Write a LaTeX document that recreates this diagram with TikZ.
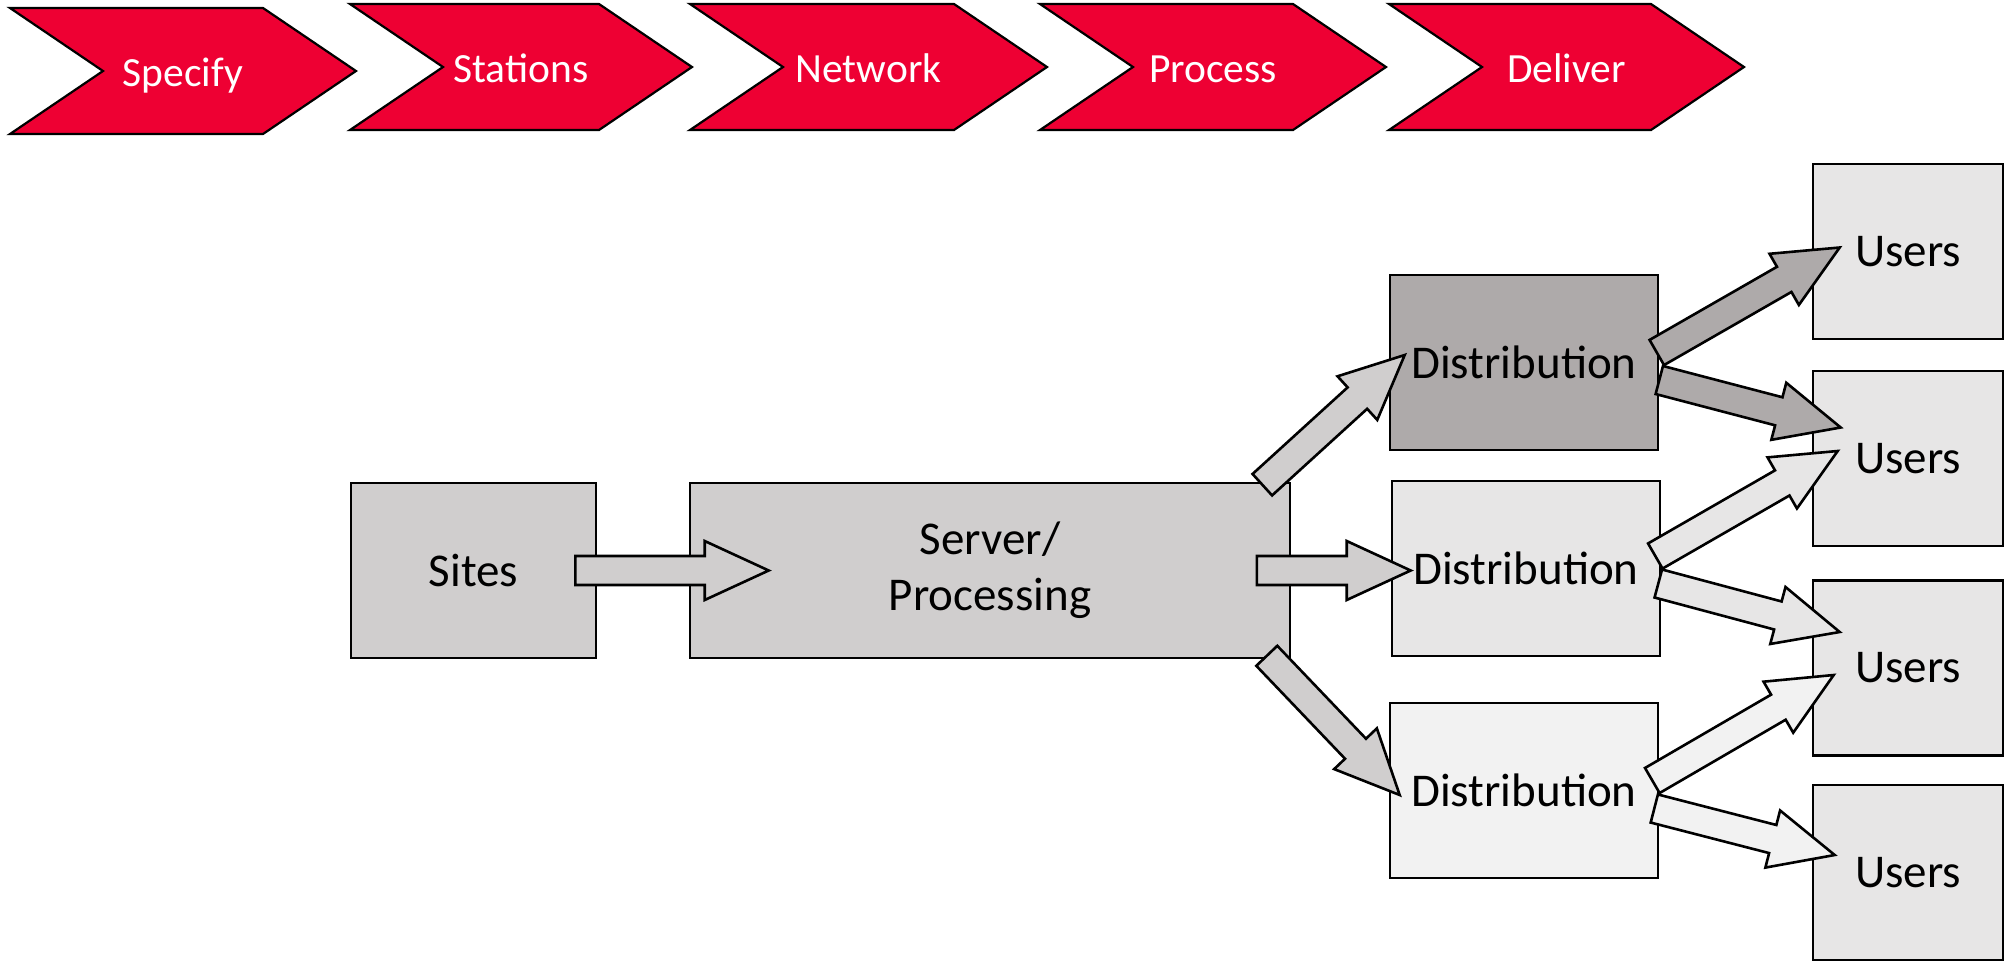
\documentclass[tikz,border=0pt]{standalone}
\usepackage{fontspec}
\setmainfont{Carlito}
\usepackage{tikz}
\usetikzlibrary{calc}
\definecolor{stepred}{RGB}{238,0,51}
\definecolor{greyA}{RGB}{208,206,206}
\definecolor{greyB}{RGB}{174,170,170}
\definecolor{greyC}{RGB}{231,230,230}
\definecolor{greyD}{RGB}{242,242,242}

% wide block arrow from #2 to #3, filled with #1
\newcommand{\fatarrow}[3]{%
  \coordinate (fb) at ($(#3)!32pt!(#2)$);
  \draw[fatline, fill=#1] ($(#2)!7.25pt!90:(#3)$) -- ($(fb)!7.25pt!90:(#3)$)
    -- ($(fb)!14.75pt!90:(#3)$) -- (#3) -- ($(fb)!14.75pt!-90:(#3)$)
    -- ($(fb)!7.25pt!-90:(#3)$) -- ($(#2)!7.25pt!-90:(#3)$) -- cycle;
}

\begin{document}
\begin{tikzpicture}[x=0.5pt,y=-0.5pt]
                    \tikzstyle{every node}+=[inner sep=0pt]
                    \tikzstyle{chevron}=[draw=black, line width=1.1pt, fill=stepred]
                    \tikzstyle{steptext}=[text=white, anchor=base, font=\fontsize{20.75}{25}\selectfont]
                    \tikzstyle{box}=[draw=black, line width=1.3pt, minimum height=87.5pt, align=center, font=\fontsize{23.5}{28}\selectfont]
                    \tikzstyle{fatline}=[draw=black, line width=1.3pt, line join=miter]
                    \useasboundingbox (0,0) rectangle (2015,960);
                    % process steps
                    \foreach \xa/\xb/\ya/\lbl in {10/263/8/Specify, 350/599/4/Stations, 690/954/4/Network, 1040/1293/4/Process, 1389/1651/4/Deliver}{
                      \draw [chevron] (\xa,\ya) -- (\xb,\ya) -- (\xb+93,\ya+63) -- (\xb,\ya+126) -- (\xa,\ya+126) -- (\xa+93,\ya+63) -- cycle;
                      \node [steptext] (\lbl) at (\xa/2+\xb/2+46.5,\ya+78) {\lbl};
                    }
                    % boxes
                    \node [box, fill=greyA, minimum width=122.5pt] (sites) at (473.5,570.5) {Sites};
                    \node [box, fill=greyA, minimum width=300pt] (server) at (990,570.5) {Server/\\Processing};
                    \node [box, fill=greyB, minimum width=134pt] (dist1) at (1524,362.5) {Distribution};
                    \node [box, fill=greyC, minimum width=134pt] (dist2) at (1526,568.5) {Distribution};
                    \node [box, fill=greyD, minimum width=134pt] (dist3) at (1524,790.5) {Distribution};
                    \node [box, fill=greyC, minimum width=95pt] (users1) at (1908,251.5) {Users};
                    \node [box, fill=greyC, minimum width=95pt] (users2) at (1908,458.5) {Users};
                    \node [box, fill=greyC, minimum width=95pt] (users3) at (1908,668) {Users};
                    \node [box, fill=greyC, minimum width=95pt] (users4) at (1908,872.5) {Users};
                    % arrow ends
                    \coordinate (a1s) at ($(sites.east)+(-22,0)$);
                    \coordinate (a1t) at ($(server.west)+(80,0)$);
                    \coordinate (a2s) at ($(server.east)+(-34.5,0)$);
                    \coordinate (a2t) at ($(server.east -| dist2.west)+(20,0)$);
                    \coordinate (a3s) at ($(server.north east)+(-29,3)$);
                    \coordinate (a3t) at ($(dist1.west)+(16,-7.5)$);
                    \coordinate (a4s) at ($(server.south east)+(-24.5,-3.5)$);
                    \coordinate (a4t) at ($(dist3.west)+(11,4.5)$);
                    \coordinate (b1s) at ($(dist1.east)+(-2.5,-10)$);
                    \coordinate (b1t) at ($(users1.west)+(28,-4)$);
                    \coordinate (b2s) at ($(dist1.east)+(0,17.5)$);
                    \coordinate (b2t) at ($(users2.west)+(29,-31)$);
                    \coordinate (c1s) at ($(dist2.east)+(-6,-12.5)$);
                    \coordinate (c1t) at ($(users2.west)+(26,-7.5)$);
                    \coordinate (c2s) at ($(dist2.east)+(-3,15)$);
                    \coordinate (c2t) at ($(users3.west)+(28,-36)$);
                    \coordinate (d1s) at ($(dist3.east)+(-7,-10)$);
                    \coordinate (d1t) at ($(users3.west)+(22,7)$);
                    \coordinate (d2s) at ($(dist3.east)+(-5,18)$);
                    \coordinate (d2t) at ($(users4.west)+(23,-17.5)$);
                    \foreach \s/\t/\c in {a1s/a1t/greyA, a2s/a2t/greyA, a3s/a3t/greyA, a4s/a4t/greyA, b1s/b1t/greyB, b2s/b2t/greyB, c1s/c1t/greyC, c2s/c2t/greyC, d1s/d1t/greyD, d2s/d2t/greyD}
                      \fatarrow{\c}{\s}{\t};
                \end{tikzpicture}
\end{document}
